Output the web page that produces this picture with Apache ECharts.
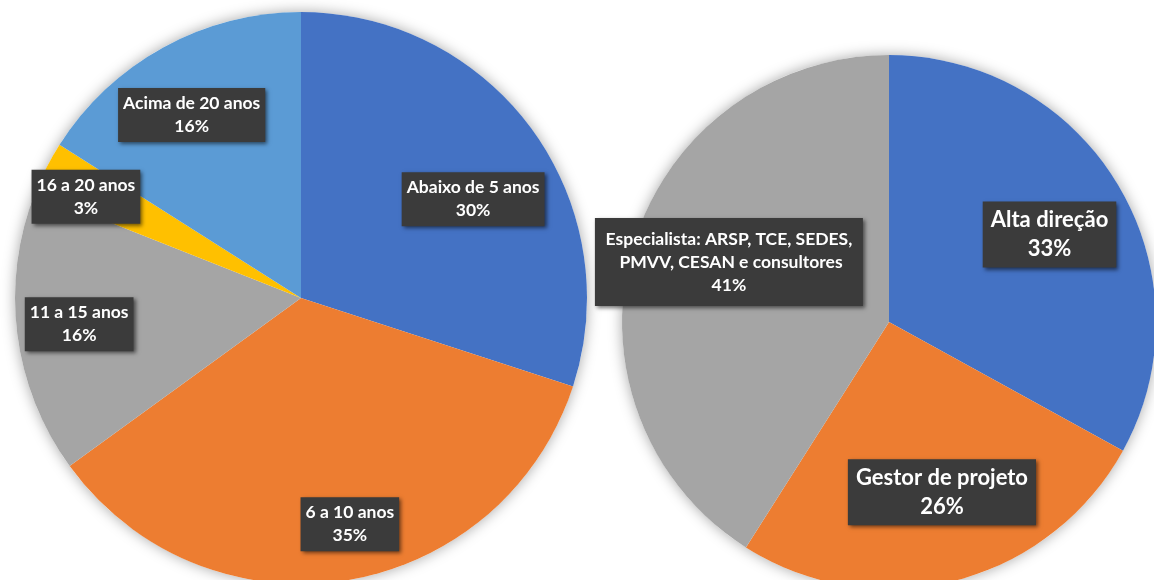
<!DOCTYPE html>
<html>
<head>
<meta charset="utf-8">
<script src="https://cdn.jsdelivr.net/npm/echarts@6/dist/echarts.min.js"></script>
<style>
html,body{margin:0;padding:0;background:#fff;}
#chart{width:1154px;height:580px;}
</style>
</head>
<body>
<div id="chart"></div>
<script>
// ---- Data ----
const leftCategories = ['Abaixo de 5 anos', '6 a 10 anos', '11 a 15 anos', '16 a 20 anos', 'Acima de 20 anos'];
const leftValues = [30, 35, 16, 3, 16];
const rightCategories = ['Alta direção', 'Gestor de projeto', 'Especialista: ARSP, TCE, SEDES, PMVV, CESAN e consultores'];
const rightValues = [33, 26, 41];

// ---- Styles ----
const leftColors = ['#4472C4', '#ED7D31', '#A5A5A5', '#FFC000', '#5B9BD5'];
const rightColors = ['#4472C4', '#ED7D31', '#A5A5A5'];
// label nudges from the default inside position (px)
const leftLabelShift = [[54, -13], [26, 82], [-77, 8], [-85, -35], [-39, -55]];
const rightLabelShift = [[43, -18], [19, 38], [-29, -22]];

const baseLabel = {
  show: true,
  position: 'inside',
  formatter: '{b}\n{d}%',
  color: '#ffffff',
  fontFamily: 'Lato',
  fontWeight: 'bold',
  backgroundColor: '#3b3b3b',
  shadowColor: 'rgba(0,0,0,0.55)',
  shadowBlur: 4,
  shadowOffsetX: 2,
  shadowOffsetY: 2,
  align: 'center'
};
const leftLabel = Object.assign({}, baseLabel, {fontSize: 17.5, lineHeight: 23, padding: [4, 5]});
const rightLabelBig = Object.assign({}, baseLabel, {fontSize: 22, lineHeight: 29, padding: [4, 8]});
const rightLabelSmall = Object.assign({}, baseLabel, {fontSize: 17.5, lineHeight: 23, padding: [11, 8, 8, 8], width: 252, overflow: 'break'});

const leftData = leftCategories.map((c, i) => ({name: c, value: leftValues[i], itemStyle: {color: leftColors[i]}}));
const rightData = rightCategories.map((c, i) => ({
  name: c, value: rightValues[i], itemStyle: {color: rightColors[i]},
  label: i === 2 ? rightLabelSmall : rightLabelBig
}));
const sum = a => a.reduce((s, v) => s + v, 0);

const chart = echarts.init(document.getElementById('chart'), null, {renderer: 'canvas'});
chart.setOption({
  animation: false,
  backgroundColor: '#ffffff',
  series: [
    {
      type: 'pie', silent: true, center: [301, 298], radius: [0, 286], z: 1,
      label: {show: false}, labelLine: {show: false},
      itemStyle: {color: '#ffffff', shadowBlur: 14, shadowColor: 'rgba(0,0,0,0.35)'},
      data: [{name: 'total', value: sum(leftValues)}]
    },
    {
      type: 'pie', silent: true, center: [889, 322], radius: [0, 267], z: 1,
      label: {show: false}, labelLine: {show: false},
      itemStyle: {color: '#ffffff', shadowBlur: 14, shadowColor: 'rgba(0,0,0,0.35)'},
      data: [{name: 'total', value: sum(rightValues)}]
    },
    {
      type: 'pie', center: [301, 298], radius: [0, 286], startAngle: 90, clockwise: true, z: 2,
      itemStyle: {borderWidth: 0},
      label: leftLabel, labelLine: {show: false},
      labelLayout: p => ({dx: leftLabelShift[p.dataIndex][0], dy: leftLabelShift[p.dataIndex][1]}),
      data: leftData
    },
    {
      type: 'pie', center: [889, 322], radius: [0, 267], startAngle: 90, clockwise: true, z: 2,
      itemStyle: {borderWidth: 0},
      label: rightLabelBig, labelLine: {show: false},
      labelLayout: p => ({dx: rightLabelShift[p.dataIndex][0], dy: rightLabelShift[p.dataIndex][1]}),
      data: rightData
    }
  ]
});
</script>
</body>
</html>
